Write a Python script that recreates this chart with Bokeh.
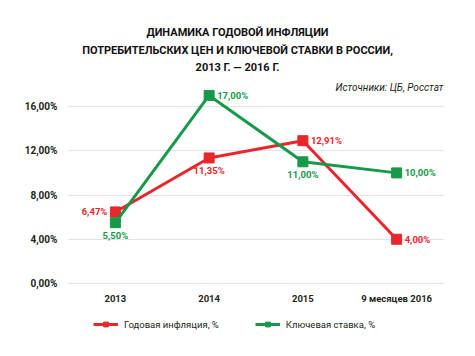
from bokeh.plotting import figure
from bokeh.models import FixedTicker, Label, Legend, LegendItem
from bokeh.core.properties import value
from bokeh.embed import file_html
from bokeh.resources import INLINE

categories = ["2013", "2014", "2015", "9 месяцев 2016"]
inflation = [6.47, 11.35, 12.91, 4.00]
key_rate = [5.50, 17.00, 11.00, 10.00]
inflation_labels = ["6,47%", "11,35%", "12,91%", "4,00%"]
key_rate_labels = ["5,50%", "17,00%", "11,00%", "10,00%"]
y_ticks = [0, 4, 8, 12, 16]
y_tick_labels = ["0,00%", "4,00%", "8,00%", "12,00%", "16,00%"]
title_lines = ["ДИНАМИКА ГОДОВОЙ ИНФЛЯЦИИ",
               "ПОТРЕБИТЕЛЬСКИХ ЦЕН И КЛЮЧЕВОЙ СТАВКИ В РОССИИ,",
               "2013 Г. — 2016 Г."]
source_text = "Источники: ЦБ, Росстат"
series_names = ["Годовая инфляция, %", "Ключевая ставка, %"]

RED = "#e8262c"
GREEN = "#17994a"
TXT = "#231f20"
FONT = "Roboto"

W, H = 475, 356
LEFT, RIGHT, BOTTOM = 68, 32, 26
PX_PER = (283 - 106) / 16.0          # pixels per percent
frame_bottom = H - BOTTOM
y_start = -(frame_bottom - 283) / PX_PER
y_end = 283 / PX_PER
CAT_PX = (W - LEFT - RIGHT) / len(categories)

p = figure(x_range=categories, y_range=(y_start, y_end), width=W, height=H,
           output_backend="svg", toolbar_location=None,
           min_border_left=LEFT, min_border_right=RIGHT, min_border_top=0,
           min_border_bottom=BOTTOM)
p.x_range.range_padding = 0
p.outline_line_color = None

p.xgrid.grid_line_color = None
p.ygrid.grid_line_color = "#dfe4ea"
p.ygrid.grid_line_width = 1
p.yaxis.ticker = FixedTicker(ticks=y_ticks)
p.yaxis.major_label_overrides = {t: l for t, l in zip(y_ticks, y_tick_labels)}
for ax in (p.xaxis, p.yaxis):
    ax.axis_line_color = None
    ax.major_tick_line_color = None
    ax.minor_tick_line_color = None
    ax.major_tick_out = 0
    ax.major_tick_in = 0
    ax.major_label_text_font = FONT
    ax.major_label_text_font_style = "bold"
    ax.major_label_text_color = TXT
p.yaxis.major_label_text_font_size = "10px"
p.xaxis.major_label_text_font_size = "9.5px"
p.yaxis.major_label_standoff = 11
p.xaxis.major_label_standoff = 9
p.xaxis.fixed_location = 0

r1 = p.line(categories, inflation, line_color=RED, line_width=3)
s1 = p.scatter(categories, inflation, marker="square", size=10, color=RED)
r2 = p.line(categories, key_rate, line_color=GREEN, line_width=3)
s2 = p.scatter(categories, key_rate, marker="square", size=10, color=GREEN)

placements_red = ["left", "below", "right", "right"]
placements_green = ["below", "right", "below", "right"]

def add_labels(vals, labels, places, color):
    for c, v, t, pl in zip(categories, vals, labels, places):
        if pl == "left":
            kw = dict(text_align="right", text_baseline="middle", x_offset=-8, y_offset=0)
        elif pl == "right":
            kw = dict(text_align="left", text_baseline="middle", x_offset=8, y_offset=0)
        else:
            kw = dict(text_align="center", text_baseline="top", x_offset=0, y_offset=7)
        p.text(x=[c], y=[v], text=[t], text_color=color, text_font=value(FONT),
               text_font_style="bold", text_font_size="9.5px", **kw)

add_labels(inflation, inflation_labels, placements_red, RED)
add_labels(key_rate, key_rate_labels, placements_green, GREEN)

title_y_img = [32, 50, 67]
for line, yi in zip(title_lines, title_y_img):
    p.add_layout(Label(x=(237 - LEFT) / CAT_PX, y=(283 - yi) / PX_PER, text=line,
                       text_align="center", text_baseline="middle",
                       text_font=FONT, text_font_style="bold",
                       text_font_size="11px", text_color="#111111"))
p.add_layout(Label(x=(443 - LEFT) / CAT_PX, y=(283 - 87) / PX_PER, text=source_text,
                   text_align="right", text_baseline="middle",
                   text_font=FONT, text_font_style="italic",
                   text_font_size="10px", text_color=TXT))

legend = Legend(items=[LegendItem(label=series_names[0], renderers=[r1, s1]),
                       LegendItem(label=series_names[1], renderers=[r2, s2])],
                orientation="horizontal", location=(25, 0),
                margin=0, padding=0, spacing=36,
                glyph_width=25, glyph_height=12, label_height=12,
                label_standoff=6,
                label_text_font=FONT, label_text_font_size="9.5px",
                label_text_color=TXT, border_line_color=None,
                background_fill_alpha=0)
p.add_layout(legend, "center")

open("out.html", "w").write(file_html(p, INLINE))
